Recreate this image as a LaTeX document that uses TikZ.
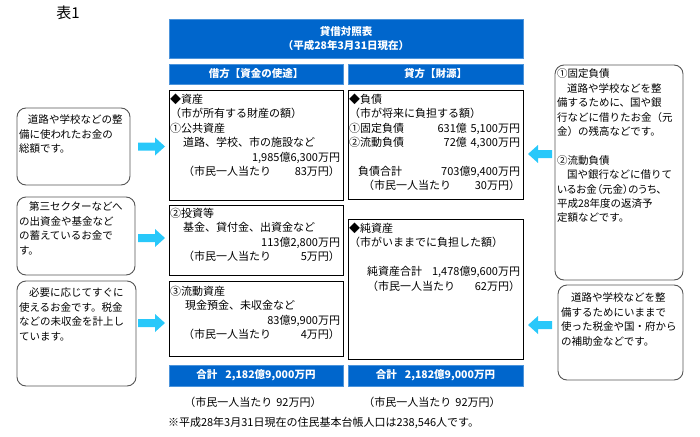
\documentclass[tikz,border=0pt]{standalone}
\usepackage{fontspec}
\newfontfamily\jp{Noto Sans CJK JP}
\newfontfamily\jpp[RawFeature=+palt]{Noto Sans CJK JP}
\definecolor{barblue}{RGB}{0,102,204}
\definecolor{arrcyan}{RGB}{40,200,250}
\definecolor{rndgray}{RGB}{85,85,85}
\begin{document}
\begin{tikzpicture}[x=1pt,y=-1pt,
  every node/.style={inner sep=0pt, outer sep=0pt},
  bar/.style={fill=barblue, draw=barblue!70!white, line width=0.6pt, text=white,
    font=\jp\bfseries\fontsize{10.5}{14}\selectfont, anchor=north west, align=center},
  mainbox/.style={draw=black, line width=0.8pt, anchor=north west},
  notebox/.style={draw=rndgray, line width=0.9pt, rounded corners=9pt, anchor=north west},
  txt/.style={anchor=north west, align=left, font=\jp\fontsize{11}{14.4}\selectfont},
  ntxt/.style={anchor=north west, align=left, font=\jp\fontsize{10.5}{14.4}\selectfont},
  plain/.style={font=\jp\fontsize{11}{13}\selectfont},
  blockarrow/.style={fill=arrcyan}
]
\useasboundingbox (0,0) rectangle (700,436);

\node[font=\jp\fontsize{15}{17}\selectfont] (hyo) at (68,13) {表1};

% title and headers
\node[bar, minimum width=354pt, minimum height=39pt] (title) at (169,19) {貸借対照表\\（平成28年3月31日現在）};
\node[bar, minimum width=174pt, minimum height=20pt] (hleft) at (169,64) {借方【資金の使途】};
\node[bar, minimum width=175pt, minimum height=20pt] (hright) at (348,64) {貸方【財源】};

% main boxes
\node[mainbox, minimum width=174pt, minimum height=110pt] (b1) at (169,90) {};
\node[mainbox, minimum width=174pt, minimum height=70pt] (b2) at (169,205) {};
\node[mainbox, minimum width=174pt, minimum height=75pt] (b3) at (169,281) {};
\node[mainbox, minimum width=175pt, minimum height=109pt] (b4) at (348,90) {};
\node[mainbox, minimum width=175pt, minimum height=140pt] (b5) at (348,219) {};

\node[txt, text width=170pt, xshift=1pt, yshift=-4pt] (t1) at (b1.north west)
 {◆資産\\（市が所有する財産の額）\\①公共資産\\\hspace*{13pt}道路、学校、市の施設など\\
  \mbox{}\hfill 1,985億6,300万円\hspace*{28pt}\\
  \hspace*{13pt}（市民一人当たり\hfill 83万円）\hspace*{12pt}};
\node[txt, text width=170pt, xshift=1pt, yshift=-3pt] (t2) at (b2.north west)
 {②投資等\\\hspace*{13pt}基金、貸付金、出資金など\\
  \mbox{}\hfill 113億2,800万円\hspace*{23pt}\\
  \hspace*{13pt}（市民一人当たり\hfill 5万円）\hspace*{15pt}};
\node[txt, text width=170pt, xshift=1pt, yshift=-5pt] (t3) at (b3.north west)
 {③流動資産\\\hspace*{15pt}現金預金、未収金など\\
  \mbox{}\hfill 83億9,900万円\hspace*{20pt}\\
  \hspace*{13pt}（市民一人当たり\hfill 4万円）\hspace*{15pt}};
\node[txt, text width=171pt, xshift=1pt, yshift=-4pt] (t4) at (b4.north west)
 {◆負債\\（市が将来に負担する額）\\
  ①固定負債\hfill 631億 5,100万円\hspace*{12pt}\\
  ②流動負債\hfill 72億 4,300万円\hspace*{12pt}\\[14.4pt]
  \hspace*{9pt}負債合計\hfill 703億9,400万円\hspace*{18pt}\\
  \hspace*{14pt}（市民一人当たり\hfill 30万円）\hspace*{18pt}};
\node[txt, text width=171pt, xshift=1pt, yshift=-4pt] (t5) at (b5.north west)
 {◆純資産\\（市がいままでに負担した額）\\[14.4pt]
  \hspace*{18pt}純資産合計\hfill 1,478億9,600万円\hspace*{12pt}\\
  \hspace*{18pt}（市民一人当たり\hfill 62万円）\hspace*{13pt}};

% totals
\node[bar, minimum width=174pt, minimum height=21pt] (sum1) at (169,365) {合計\hspace{8pt}2,182億9,000万円};
\node[bar, minimum width=175pt, minimum height=21pt] (sum2) at (348,365) {合計\hspace{8pt}2,182億9,000万円};
\node[plain] (pc1) at (253,402) {（市民一人当たり\hspace{4pt}92万円）};
\node[plain] (pc2) at (432,402) {（市民一人当たり\hspace{4pt}92万円）};
\node[plain, anchor=west] (foot) at (168,423) {※平成28年3月31日現在の住民基本台帳人口は238,546人です。};

% note boxes
\node[notebox, minimum width=113pt, minimum height=77pt] (nA) at (17,108) {};
\node[notebox, minimum width=118pt, minimum height=78pt] (nB) at (17,197) {};
\node[notebox, minimum width=119pt, minimum height=105pt] (nC) at (17,281) {};
\node[notebox, minimum width=128pt, minimum height=215pt] (nD) at (555,65) {};
\node[notebox, minimum width=125pt, minimum height=95pt] (nE) at (558,285) {};

\node[ntxt, text width=112pt, xshift=2pt, yshift=-7pt] (tA) at (nA.north west)
 {\hspace*{9pt}道路や学校などの整\\備に使われたお金の\\総額です。};
\node[ntxt, text width=116pt, xshift=2pt, yshift=-5pt] (tB) at (nB.north west)
 {\hspace*{10pt}第三セクターなどへ\\の出資金や基金など\\の蓄えているお金で\\す。};
\node[ntxt, text width=117pt, xshift=2pt, yshift=-7pt] (tC) at (nC.north west)
 {\hspace*{10pt}必要に応じてすぐに\\使えるお金です。税金\\などの未収金を計上し\\ています。};
\node[ntxt, text width=126pt, xshift=2pt, yshift=-4pt] (tD) at (nD.north west)
 {①固定負債\\\hspace*{10pt}道路や学校などを整\\備するために、国や銀\\行などに借りたお金（元\\金）の残高などです。\\[14.4pt]
  ②流動負債\\\hspace*{10pt}国や銀行などに借りて\\{\jpp いるお金（元金）のうち、}\\平成28年度の返済予\\定額などです。};
\node[ntxt, text width=123pt, xshift=3pt, yshift=-8pt] (tE) at (nE.north west)
 {\hspace*{10pt}道路や学校などを整\\備するためにいままで\\使った税金や国・府から\\の補助金などです。};

% block arrows
\fill[blockarrow] (nA.east) ++(8,0) ++(0,-4) -- ++(17,0) -- ++(0,-5) -- ++(10,9) -- ++(-10,9) -- ++(0,-5) -- ++(-17,0) -- cycle;
\fill[blockarrow] (nB.east) ++(3,2) ++(0,-4) -- ++(17,0) -- ++(0,-5) -- ++(10,9) -- ++(-10,9) -- ++(0,-5) -- ++(-17,0) -- cycle;
\fill[blockarrow] (nC.east) ++(2,-10.5) ++(0,-4) -- ++(17,0) -- ++(0,-5) -- ++(10,9) -- ++(-10,9) -- ++(0,-5) -- ++(-17,0) -- cycle;
\fill[blockarrow] (nD.west) ++(-3,-18.5) ++(0,-4) -- ++(-14,0) -- ++(0,-5) -- ++(-10,9) -- ++(10,9) -- ++(0,-5) -- ++(14,0) -- cycle;
\fill[blockarrow] (nE.west) ++(-6,-7.5) ++(0,-4) -- ++(-14,0) -- ++(0,-5) -- ++(-10,9) -- ++(10,9) -- ++(0,-5) -- ++(14,0) -- cycle;
\end{tikzpicture}
\end{document}
